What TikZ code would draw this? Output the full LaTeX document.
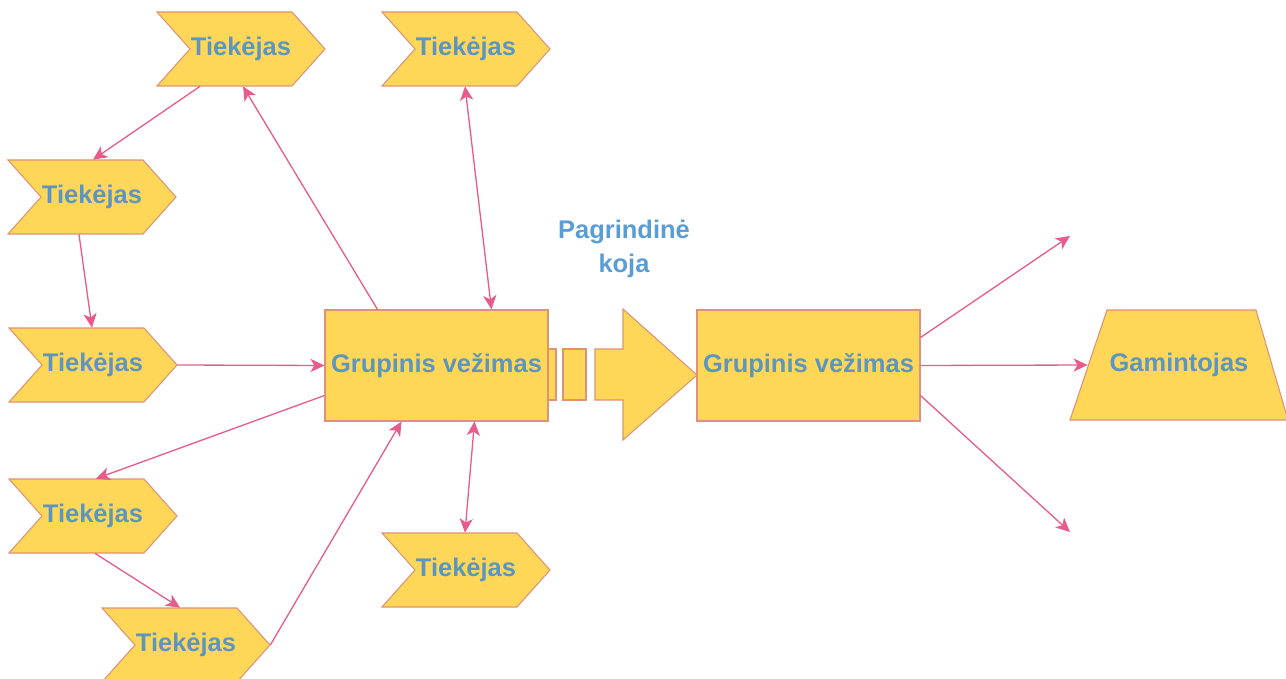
\documentclass[tikz,border=0pt]{standalone}
\usepackage{fontspec}
\setmainfont{Liberation Sans}
\usetikzlibrary{arrows.meta,calc}

\definecolor{boxfill}{RGB}{255,215,88}
\definecolor{boxline}{RGB}{222,146,118}
\definecolor{linkpink}{RGB}{232,92,140}
\definecolor{txtblue}{RGB}{92,150,192}
\definecolor{headblue}{RGB}{90,157,212}

% supplier step shape: name, centre x, centre y, text
\newcommand\supplier[4]{%
  \path[shapefill] ({#2-84},{#3-37}) -- ({#2+51},{#3-37}) -- ({#2+84},{#3})
    -- ({#2+51},{#3+37}) -- ({#2-84},{#3+37}) -- ({#2-51},{#3}) -- cycle;
  \node[steplabel] (#1) at (#2,#3) {#4};%
}

\begin{document}
\begin{tikzpicture}[x=0.02cm,y=-0.02cm,
  shapefill/.style={fill=boxfill,draw=boxline,line width=0.6pt,line join=miter},
  labeltext/.style={text=txtblue,font=\fontsize{14.5}{17}\selectfont\bfseries},
  steplabel/.style={labeltext,inner sep=0pt,minimum width=3.36cm,minimum height=1.48cm},
  groupbox/.style={shapefill,labeltext,inner sep=0pt,minimum width=4.46cm,minimum height=2.22cm},
  tip/.style={Stealth[length=8pt,width=7.5pt,inset=2.2pt]},
  link/.style={draw=linkpink,line width=0.75pt,-{Stealth[length=8pt,width=7.5pt,inset=2.2pt]}},
  twoway/.style={draw=linkpink,line width=0.75pt,{Stealth[length=8pt,width=7.5pt,inset=2.2pt]}-{Stealth[length=8pt,width=7.5pt,inset=2.2pt]}}
]
\useasboundingbox (0,0) rectangle (1286,679);

% suppliers
\supplier{t1}{241}{49}{Tiekėjas}
\supplier{t2}{466}{49}{Tiekėjas}
\supplier{t3}{92}{197}{Tiekėjas}
\supplier{t4}{93}{365}{Tiekėjas}
\supplier{t5}{93}{516}{Tiekėjas}
\supplier{t6}{186}{645}{Tiekėjas}
\supplier{t7}{466}{570}{Tiekėjas}

% consolidated transport boxes
\node[groupbox] (g1) at (436.5,365.5) {Grupinis vežimas};
\node[groupbox] (g2) at (808.5,365.5) {Grupinis vežimas};

% main leg block arrow
\path[shapefill] (548,349) rectangle (556,400);
\path[shapefill] (563,349) rectangle (586,400);
\path[shapefill] (595,349) -- (623,349) -- (623,309) -- (697,375)
  -- (623,440) -- (623,400) -- (595,400) -- cycle;
\node[text=headblue,font=\fontsize{14.5}{19.5}\selectfont\bfseries,align=center]
  (leg) at (624,249) {Pagrindinė\\koja};

% manufacturer
\path[shapefill] (1107,310) -- (1256,310) -- (1288,420) -- (1070,420) -- cycle;
\node[labeltext,inner sep=0pt,minimum width=4.32cm,minimum height=2.2cm] (gm) at (1179,365) {Gamintojas};

% free ends of the outgoing flows
\coordinate (outA) at (1070,236);
\coordinate (outB) at (1070,532);

% connectors
\draw[link] ($(g1.north west)+(53,0)$) -- ($(t1.south)+(2,0)$);
\draw[link] ($(t1.south)+(-41,0)$) -- ($(t3.north)+(1,0)$);
\draw[link] ($(t3.south)+(-13,0)$) -- ($(t4.north)+(-1,0)$);
\draw[link] (t4.east) -- (g1.west);
\draw[link] ($(g1.west)+(0,30)$) -- ($(t5.north)+(3,0)$);
\draw[link] ($(t5.south)+(2,0)$) -- ($(t6.north)+(-6,0)$);
\draw[link] (t6.east) -- ($(g1.south west)+(77,0)$);
\draw[twoway] ($(t2.south)+(-1,0)$) -- ($(g1.north west)+(167,0)$);
\draw[twoway] ($(g1.south west)+(150,0)$) -- ($(t7.north)+(-1,0)$);
\draw[link] ($(g2.east)+(0,-28)$) -- (outA);
\draw[link] (g2.east) -- ($(gm.west)+(17,0)$);
\draw[link] ($(g2.east)+(0,30)$) -- (outB);
\end{tikzpicture}
\end{document}
